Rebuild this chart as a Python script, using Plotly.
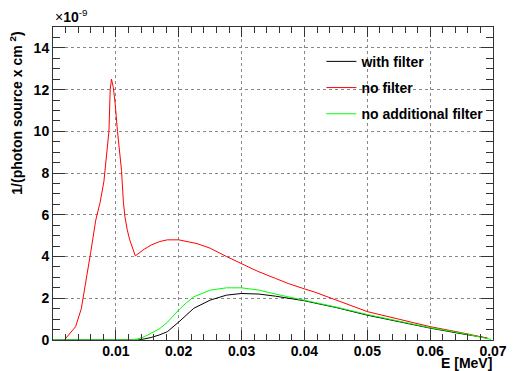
import plotly.graph_objects as go

# Energy [MeV] and values [x1e-9 per photon source per cm^2]
e_with = [0.0, 0.0135, 0.0145, 0.0156, 0.017, 0.0182, 0.020, 0.0212, 0.0224, 0.025, 0.0276,
          0.030, 0.0328, 0.0354, 0.040, 0.0431, 0.045, 0.050, 0.055, 0.060, 0.065, 0.069]
v_with = [0.0, 0.0, 0.05, 0.12, 0.25, 0.40, 0.86, 1.20, 1.52, 1.91, 2.15,
          2.23, 2.20, 2.10, 1.88, 1.68, 1.56, 1.19, 0.88, 0.57, 0.30, 0.10]

e_none = [0.0018, 0.0036, 0.0045, 0.0052, 0.0060, 0.0068, 0.0075, 0.0081, 0.0085, 0.0089, 0.0091,
          0.0093, 0.0096, 0.0099, 0.01026, 0.0109, 0.0112, 0.01145, 0.0118, 0.0122, 0.0131,
          0.0145, 0.0156, 0.0170, 0.0182, 0.0200, 0.0229, 0.0250, 0.0276, 0.0300, 0.0325,
          0.0354, 0.0375, 0.0400, 0.0416, 0.0450, 0.0500, 0.0550, 0.0600, 0.0650, 0.0685, 0.0692]
v_none = [0.0, 0.64, 1.5, 2.7, 4.2, 5.74, 6.6, 7.6, 8.8, 10.0, 12.0,
          12.5, 12.1, 11.3, 10.0, 8.13, 6.6, 5.9, 5.3, 4.8, 4.03,
          4.35, 4.55, 4.72, 4.80, 4.80, 4.62, 4.40, 4.00, 3.65, 3.30,
          2.95, 2.70, 2.45, 2.30, 1.92, 1.36, 1.00, 0.64, 0.35, 0.14, 0.08]

e_noadd = [0.0, 0.0125, 0.0135, 0.0145, 0.0156, 0.017, 0.0182, 0.020, 0.0212, 0.0224, 0.025,
           0.0276, 0.030, 0.0328, 0.0354, 0.040, 0.0431, 0.045, 0.050, 0.055, 0.060, 0.065,
           0.068, 0.0697]
v_noadd = [0.0, 0.0, 0.05, 0.15, 0.32, 0.55, 0.85, 1.44, 1.78, 2.07, 2.39,
           2.50, 2.50, 2.39, 2.20, 1.91, 1.70, 1.58, 1.22, 0.90, 0.59, 0.33,
           0.16, 0.03]

x_ticks = [0.01, 0.02, 0.03, 0.04, 0.05, 0.06, 0.07]
x_ticktext = ["0.01", "0.02", "0.03", "0.04", "0.05", "0.06", "0.07"]

names = ["with filter", "no filter", "no additional filter"]
colors = ["#000000", "#ff0000", "#00ff00"]

FONT = "Liberation Sans, Arial, sans-serif"

fig = go.Figure()
for i, (x, y) in enumerate([(e_with, v_with), (e_none, v_none), (e_noadd, v_noadd)]):
    fig.add_trace(go.Scatter(x=x, y=y, mode="lines", name=names[i],
                             line=dict(color=colors[i], width=1),
                             legendgroup=str(i)))

axis_common = dict(
    showline=True, linecolor="#333333", linewidth=1, mirror="allticks",
    ticks="inside", tickcolor="#333333", tickwidth=1,
    showgrid=True, gridcolor="#888888", griddash="dot", gridwidth=1,
    zeroline=False,
    tickfont=dict(family=FONT, size=14, color="#000000", weight="bold"),
)

fig.update_xaxes(range=[0, 0.07], tickvals=x_ticks, ticktext=x_ticktext, ticklen=10,
                 ticklabelstandoff=-2,
                 minor=dict(dtick=0.002, tick0=0, ticks="inside", ticklen=6,
                            tickcolor="#333333", showgrid=False),
                 **axis_common)
fig.update_yaxes(range=[0, 15], dtick=2, tick0=0, ticklen=12,
                 minor=dict(dtick=0.5, tick0=0, ticks="inside", ticklen=7,
                            tickcolor="#333333", showgrid=False),
                 **axis_common)

fig.update_layout(
    width=519, height=371,
    margin=dict(l=53, r=16, t=27, b=31),
    paper_bgcolor="white", plot_bgcolor="white",
    showlegend=True,
    legend=dict(x=0.61, y=0.94, xanchor="left", yanchor="top",
                bgcolor="rgba(0,0,0,0)", borderwidth=0,
                tracegroupgap=5,
                font=dict(family=FONT, size=14, color="#000000", weight="bold")),
    annotations=[
        dict(text="E [MeV]", xref="paper", yref="paper", x=1.0, y=-0.045,
             xanchor="right", yanchor="top", showarrow=False, borderpad=0,
             font=dict(family=FONT, size=14, color="#000000", weight="bold")),
        dict(text="1/(photon source x cm <sup>2</sup>)", xref="paper", yref="paper",
             x=-0.084, y=0.99, xanchor="center", yanchor="top", textangle=-90,
             showarrow=False,
             font=dict(family=FONT, size=14, color="#000000", weight="bold")),
        dict(text="×<b>10</b><sup>-9</sup>", xref="paper", yref="paper", x=0.0, y=1.0,
             xanchor="left", yanchor="bottom", showarrow=False,
             font=dict(family=FONT, size=14, color="#000000")),
    ],
)

fig.write_html("out.html")
